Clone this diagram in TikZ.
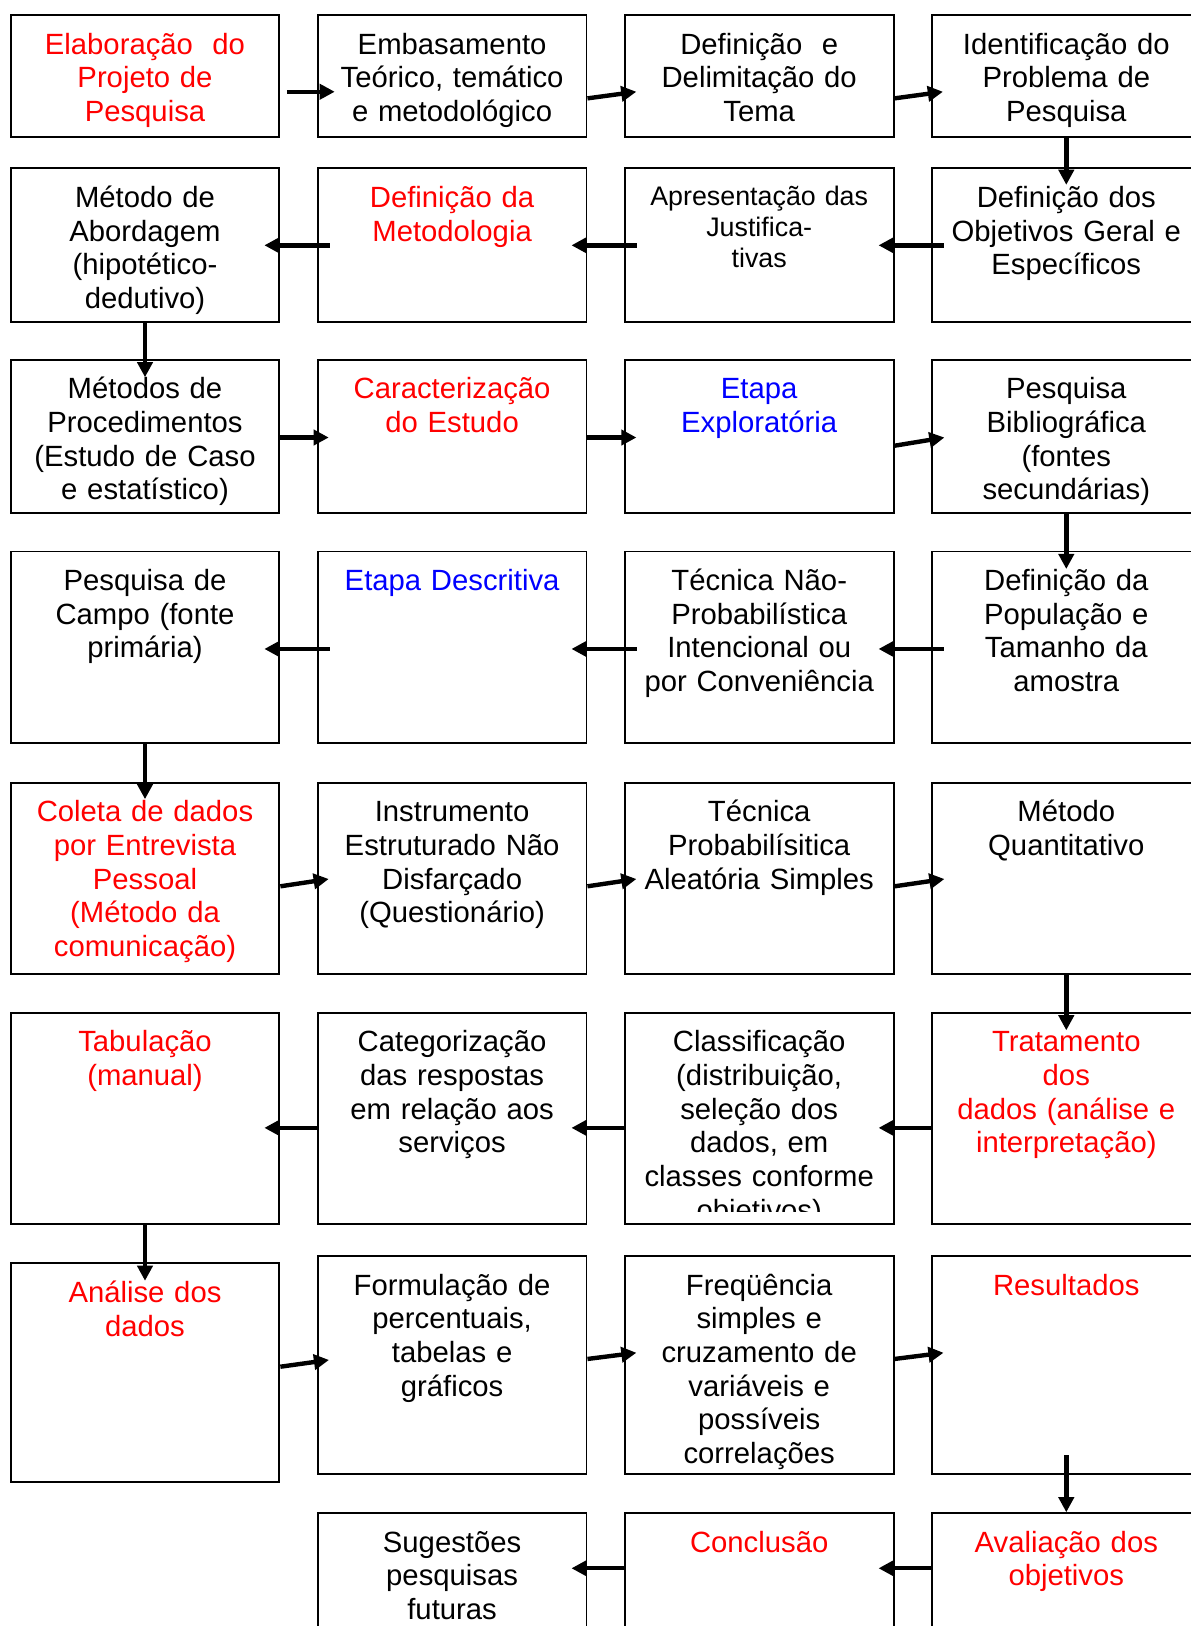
\documentclass[tikz,border=0pt]{standalone}
\usepackage{fontspec}
\setmainfont{Liberation Sans}
\usepackage{tikz}
\usetikzlibrary{arrows.meta,calc,positioning}
\definecolor{stagered}{RGB}{255,0,0}
\definecolor{stageblue}{RGB}{0,0,255}

\begin{document}
\begin{tikzpicture}[x=0.41pt,y=-0.41pt,
    box/.style={draw,line width=.8pt,minimum width=110.2pt,inner sep=0pt},
    lbl/.style={text width=110pt,align=center,inner sep=0pt,anchor=north,
      font=\fontsize{12}{13.8}\selectfont,execute at begin node=\strut},
    arr/.style={line width=1.8pt,-{Triangle[length=6.2pt,width=6.2pt]}}]
    \useasboundingbox (0,0) rectangle (1191,1626);
    \clip (0,0) rectangle (1191,1626);

    % row 1
    \node[box,minimum height=49.9pt] (b11) at (145,75.85) {};
    \node[box,minimum height=49.9pt] (b12) at (452.1,75.85) {};
    \node[box,minimum height=49.9pt] (b13) at (759.2,75.85) {};
    \node[box,minimum height=49.9pt] (b14) at (1066.3,75.85) {};
    \node[lbl,text=stagered] (t11) at ($(b11.north)+(0,16)$) {Elaboração~~do\\Projeto de\\Pesquisa};
    \node[lbl] (t12) at ($(b12.north)+(0,16)$) {Embasamento\\Teórico, temático\\e metodológico};
    \node[lbl] (t13) at ($(b13.north)+(0,16)$) {Definição~~e\\Delimitação do\\Tema};
    \node[lbl] (t14) at ($(b14.north)+(0,16)$) {Identificação do\\Problema de\\Pesquisa};

    % row 2
    \node[box,minimum height=63.14pt] (b21) at (145,245.3) {};
    \node[box,minimum height=63.14pt] (b22) at (452.1,245.3) {};
    \node[box,minimum height=63.14pt] (b23) at (759.2,245.3) {};
    \node[box,minimum height=63.14pt] (b24) at (1066.3,245.3) {};
    \node[lbl] (t21) at ($(b21.north)+(0,16)$) {Método de\\Abordagem\\(hipotético-\\dedutivo)};
    \node[lbl,text=stagered] (t22) at ($(b22.north)+(0,16)$) {Definição da\\Metodologia};
    \node[lbl,font=\fontsize{11}{12.65}\selectfont] (t23) at ($(b23.north)+(0,16)$) {Apresentação das\\Justifica-\\tivas};
    \node[lbl] (t24) at ($(b24.north)+(0,16)$) {Definição dos\\Objetivos Geral e\\Específicos};

    % row 3
    \node[box,minimum height=62.9pt] (b31) at (145,436.4) {};
    \node[box,minimum height=62.9pt] (b32) at (452.1,436.4) {};
    \node[box,minimum height=62.9pt] (b33) at (759.2,436.4) {};
    \node[box,minimum height=62.9pt] (b34) at (1066.3,436.4) {};
    \node[lbl] (t31) at ($(b31.north)+(0,16)$) {Métodos de\\Procedimentos\\(Estudo de Caso\\e estatístico)};
    \node[lbl,text=stagered] (t32) at ($(b32.north)+(0,16)$) {Caracterização\\do Estudo};
    \node[lbl,text=stageblue] (t33) at ($(b33.north)+(0,16)$) {Etapa\\Exploratória};
    \node[lbl] (t34) at ($(b34.north)+(0,16)$) {Pesquisa\\Bibliográfica\\(fontes\\secundárias)};

    % row 4
    \node[box,minimum height=78.6pt] (b41) at (145,647.35) {};
    \node[box,minimum height=78.6pt] (b42) at (452.1,647.35) {};
    \node[box,minimum height=78.6pt] (b43) at (759.2,647.35) {};
    \node[box,minimum height=78.6pt] (b44) at (1066.3,647.35) {};
    \node[lbl] (t41) at ($(b41.north)+(0,16)$) {Pesquisa de\\Campo (fonte\\primária)};
    \node[lbl,text=stageblue] (t42) at ($(b42.north)+(0,16)$) {Etapa Descritiva};
    \node[lbl] (t43) at ($(b43.north)+(0,16)$) {Técnica Não-\\Probabilística\\Intencional ou\\por Conveniência};
    \node[lbl] (t44) at ($(b44.north)+(0,16)$) {Definição da\\População e\\Tamanho da\\amostra};

    % row 5
    \node[box,minimum height=78.6pt] (b51) at (145,878.5) {};
    \node[box,minimum height=78.6pt] (b52) at (452.1,878.5) {};
    \node[box,minimum height=78.6pt] (b53) at (759.2,878.5) {};
    \node[box,minimum height=78.6pt] (b54) at (1066.3,878.5) {};
    \node[lbl,text=stagered] (t51) at ($(b51.north)+(0,16)$) {Coleta de dados\\por Entrevista\\Pessoal\\(Método da\\comunicação)};
    \node[lbl] (t52) at ($(b52.north)+(0,16)$) {Instrumento\\Estruturado Não\\Disfarçado\\(Questionário)};
    \node[lbl] (t53) at ($(b53.north)+(0,16)$) {Técnica\\Probabilísitica\\Aleatória Simples};
    \node[lbl] (t54) at ($(b54.north)+(0,16)$) {Método\\Quantitativo};

    % row 6
    \node[box,minimum height=86.7pt] (b61) at (145,1118.55) {};
    \node[box,minimum height=86.7pt] (b62) at (452.1,1118.55) {};
    \node[box,minimum height=86.7pt] (b63) at (759.2,1118.55) {};
    \node[box,minimum height=86.7pt] (b64) at (1066.3,1118.55) {};
    \node[lbl,text=stagered] (t61) at ($(b61.north)+(0,16)$) {Tabulação\\(manual)};
    \node[lbl] (t62) at ($(b62.north)+(0,16)$) {Categorização\\das respostas\\em relação aos\\serviços};
    \begin{scope}
      \clip (624.85,1012.8) rectangle (893.55,1211);
      \node[lbl] (t63) at ($(b63.north)+(0,16)$) {Classificação\\(distribuição,\\seleção dos\\dados, em\\classes conforme\\objetivos)};
    \end{scope}
    \node[lbl,text=stagered] (t64) at ($(b64.north)+(0,16)$) {Tratamento\\dos\\dados (análise e\\interpretação)};

    % row 7
    \node[box,minimum height=89.5pt] (b71) at (145,1372.5) {};
    \node[box,minimum height=89.5pt] (b72) at (452.1,1365.15) {};
    \node[box,minimum height=89.5pt] (b73) at (759.2,1365.15) {};
    \node[box,minimum height=89.5pt] (b74) at (1066.3,1365.15) {};
    \node[lbl,text=stagered] (t71) at ($(b71.north)+(0,16)$) {Análise dos\\dados};
    \node[lbl] (t72) at ($(b72.north)+(0,16)$) {Formulação de\\percentuais,\\tabelas e\\gráficos};
    \node[lbl] (t73) at ($(b73.north)+(0,16)$) {Freqüência\\simples e\\cruzamento de\\variáveis e\\possíveis\\correlações};
    \node[lbl,text=stagered] (t74) at ($(b74.north)+(0,16)$) {Resultados};

    % row 8
    \node[box,minimum height=52pt] (b82) at (452.1,1576.65) {};
    \node[box,minimum height=52pt] (b83) at (759.2,1576.65) {};
    \node[box,minimum height=52pt] (b84) at (1066.3,1576.65) {};
    \node[lbl] (t82) at ($(b82.north)+(0,16)$) {Sugestões\\pesquisas\\futuras};
    \node[lbl,text=stagered] (t83) at ($(b83.north)+(0,16)$) {Conclusão};
    \node[lbl,text=stagered] (t84) at ($(b84.north)+(0,16)$) {Avaliação dos\\objetivos};

    % arrows
    \draw[arr] ($(b11.east)+(6.6,15.9)$) -- ($(b12.west)+(18,15.9)$);
    \draw[arr] ($(b12.east)+(0,22.5)$) -- ($(b13.west)+(12.5,15.9)$);
    \draw[arr] ($(b13.east)+(0,22.5)$) -- ($(b14.west)+(12,15.9)$);
    \draw[arr] (b14.south) -- ($(b24.north)+(0,17.5)$);

    \draw[arr] ($(b24.west)+(13,0)$) -- ($(b23.east)+(-16,0)$);
    \draw[arr] ($(b23.west)+(13,0)$) -- ($(b22.east)+(-16,0)$);
    \draw[arr] ($(b22.west)+(13,0)$) -- ($(b21.east)+(-16,0)$);
    \draw[arr] (b21.south) -- ($(b31.north)+(0,18.5)$);

    \draw[arr] ($(b31.east)+(0,1.1)$) -- ($(b32.west)+(12,1.1)$);
    \draw[arr] ($(b32.east)+(0,1.1)$) -- ($(b33.west)+(12.6,1.1)$);
    \draw[arr] ($(b33.east)+(0,9.3)$) -- ($(b34.west)+(13.5,1.1)$);
    \draw[arr] (b34.south) -- ($(b44.north)+(0,18.5)$);

    \draw[arr] ($(b44.west)+(13,1.6)$) -- ($(b43.east)+(-16,1.6)$);
    \draw[arr] ($(b43.west)+(13,1.6)$) -- ($(b42.east)+(-16,1.6)$);
    \draw[arr] ($(b42.west)+(13,1.6)$) -- ($(b41.east)+(-16,1.6)$);
    \draw[arr] (b41.south) -- ($(b51.north)+(0,17.5)$);

    \draw[arr] ($(b51.east)+(0,7.8)$) -- ($(b52.west)+(12,0.5)$);
    \draw[arr] ($(b52.east)+(0,7.8)$) -- ($(b53.west)+(12.6,0.5)$);
    \draw[arr] ($(b53.east)+(0,7.8)$) -- ($(b54.west)+(13.5,0.5)$);
    \draw[arr] (b54.south) -- ($(b64.north)+(0,18.5)$);

    \draw[arr] ($(b64.west)+(0,9.3)$) -- ($(b63.east)+(-16,9.3)$);
    \draw[arr] ($(b63.west)+(0,9.3)$) -- ($(b62.east)+(-16,9.3)$);
    \draw[arr] ($(b62.west)+(0,9.3)$) -- ($(b61.east)+(-16,9.3)$);
    \draw[arr] (b61.south) -- ($(b71.north)+(0,18.4)$);

    \draw[arr] ($(b71.east)+(0,-5.8)$) -- ($(b72.west)+(12.3,-5.2)$);
    \draw[arr] ($(b72.east)+(0,-6.2)$) -- ($(b73.west)+(12.6,-12.4)$);
    \draw[arr] ($(b73.east)+(0,-6.2)$) -- ($(b74.west)+(12.6,-12.4)$);
    \draw[arr] ($(b74.south)+(0,-20)$) -- (b84.north);

    \draw[arr] ($(b84.north west)+(0,56)$) -- ($(b83.north east)+(-16,56)$);
    \draw[arr] ($(b83.north west)+(0,56)$) -- ($(b82.north east)+(-16,56)$);
  \end{tikzpicture}
\end{document}
